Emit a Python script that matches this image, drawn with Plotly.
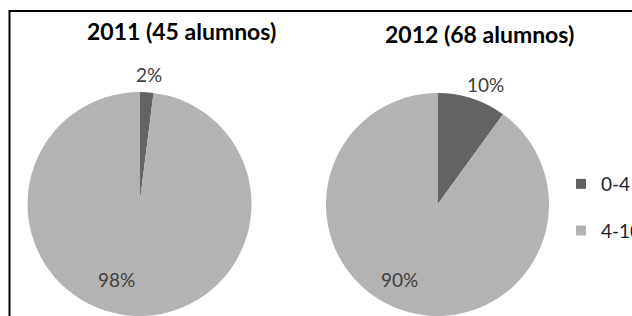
import plotly.graph_objects as go

# ---- data ----
categories = ["0-4", "4-10"]
years = ["2011", "2012"]
students = [45, 68]
values_2011 = [2, 98]
values_2012 = [10, 90]
colors = ["#636363", "#b3b3b3"]

W, H = 632, 316


def px(x):
    return x / W


def py(y):
    return 1 - y / H


fig = go.Figure()

# pie domains (pixel boxes converted to paper fractions)
domains = [
    dict(x=[px(26), px(253)], y=[0, py(92)]),
    dict(x=[px(325), px(550)], y=[0, py(93)]),
]
series = [values_2011, values_2012]

for vals, dom in zip(series, domains):
    fig.add_trace(go.Pie(
        labels=categories,
        values=vals,
        domain=dom,
        sort=False,
        direction="clockwise",
        rotation=0,
        marker=dict(colors=colors, line=dict(width=0)),
        textinfo="none",
        hoverinfo="label+percent",
        showlegend=False,
    ))

# legend entries for the categories
for i, (cat, col) in enumerate(zip(categories, colors)):
    fig.add_trace(go.Scatter(
        x=[None], y=[None], mode="markers", name=cat,
        marker=dict(symbol="square", size=10, color=col),
        legendgroup=cat, showlegend=True, hoverinfo="skip",
    ))

annotations = []
# titles
title_pos = [(181.5, 31), (479, 34)]
for yr, n, (tx, ty) in zip(years, students, title_pos):
    annotations.append(dict(
        x=px(tx), y=py(ty), xref="paper", yref="paper",
        text=f"<b>{yr} ({n} alumnos)</b>", showarrow=False,
        xanchor="center", yanchor="middle",
        font=dict(family="Lato", size=23, color="#000000"),
    ))

# percentage labels
label_pos = [
    [(149, 75), (116, 279.5)],
    [(485, 84.5), (399, 279.5)],
]
for vals, positions in zip(series, label_pos):
    tot = sum(vals)
    for v, (lx, ly) in zip(vals, positions):
        annotations.append(dict(
            x=px(lx), y=py(ly), xref="paper", yref="paper",
            text=f"{round(100 * v / tot)}%", showarrow=False,
            xanchor="center", yanchor="middle",
            font=dict(family="Lato", size=19, color="#404040"),
        ))

fig.update_layout(
    width=W, height=H,
    margin=dict(l=0, r=0, t=0, b=0, autoexpand=False),
    paper_bgcolor="white", plot_bgcolor="white",
    xaxis=dict(visible=False), yaxis=dict(visible=False),
    annotations=annotations,
    showlegend=True,
    legend=dict(
        x=px(561), y=py(165), xanchor="left", yanchor="top",
        bgcolor="rgba(0,0,0,0)", borderwidth=0,
        font=dict(family="Lato", size=19, color="#1c1c2c"),
        tracegroupgap=19, traceorder="grouped",
    ),
    shapes=[dict(
        type="rect", xref="paper", yref="paper",
        x0=px(9.5), x1=1.05, y0=-0.05, y1=py(11),
        line=dict(color="black", width=2), fillcolor="rgba(0,0,0,0)",
        layer="above",
    )],
)

fig.write_html(
    "out.html",
    config={"displayModeBar": False},
    post_script="document.body.style.margin='0';document.body.style.overflow='hidden';",
)
